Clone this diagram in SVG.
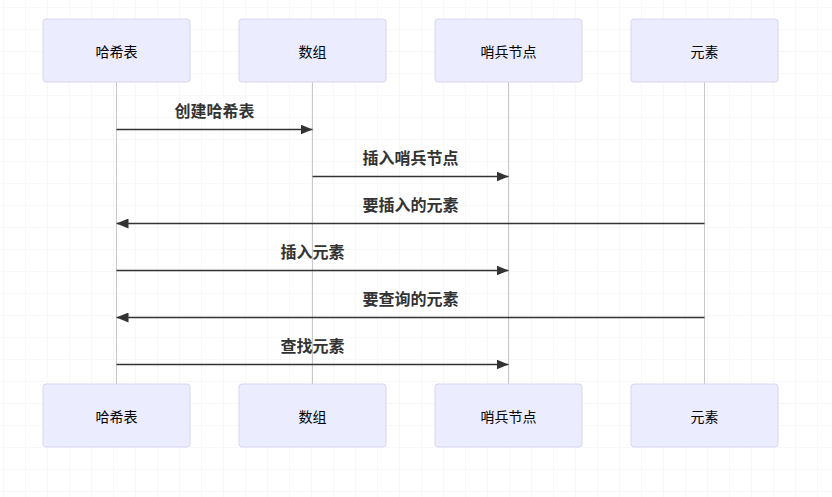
<svg xmlns="http://www.w3.org/2000/svg" width="832" height="497" viewBox="0 0 832 497">
<defs>
<pattern id="grid" x="3" y="7" width="22" height="22" patternUnits="userSpaceOnUse">
<path d="M0 0V22M0 0H22" fill="none" stroke="#f2f2f2" stroke-width="1"/>
</pattern>
<marker id="arrow" viewBox="0 0 12 10" refX="12" refY="5" markerWidth="12" markerHeight="10" markerUnits="userSpaceOnUse" orient="auto">
<path d="M0 0L12 5L0 10z" fill="#333"/>
</marker>
<style>
.actor rect{fill:#ECECFF;stroke:#d9d3f3;stroke-width:1}
.actor text{font-family:"Noto Sans CJK SC","Liberation Sans",sans-serif;font-size:14px;fill:#000;text-anchor:middle;dominant-baseline:central}
.life{stroke:#c8c8c8;stroke-width:1}
.msg{stroke:#333;stroke-width:1.5;marker-end:url(#arrow)}
.lbl{font-family:"Noto Sans CJK SC","Liberation Sans",sans-serif;font-size:16px;font-weight:bold;fill:#333;text-anchor:middle}
</style>
</defs>
<rect width="832" height="497" fill="#fff"/>
<rect width="832" height="497" fill="url(#grid)"/>
<g id="lifelines">
<line class="life" x1="116.5" y1="82" x2="116.5" y2="384"/>
<line class="life" x1="312.5" y1="82" x2="312.5" y2="384"/>
<line class="life" x1="508.5" y1="82" x2="508.5" y2="384"/>
<line class="life" x1="704.5" y1="82" x2="704.5" y2="384"/>
</g>
<g id="actor-hash-top" class="actor"><rect x="43" y="19" width="147" height="63" rx="3"/><text x="116.5" y="51">哈希表</text></g>
<g id="actor-array-top" class="actor"><rect x="239" y="19" width="147" height="63" rx="3"/><text x="312.5" y="51">数组</text></g>
<g id="actor-sentinel-top" class="actor"><rect x="435" y="19" width="147" height="63" rx="3"/><text x="508.5" y="51">哨兵节点</text></g>
<g id="actor-elem-top" class="actor"><rect x="631" y="19" width="147" height="63" rx="3"/><text x="704.5" y="51">元素</text></g>
<g id="actor-hash-bottom" class="actor"><rect x="43" y="384" width="147" height="63" rx="3"/><text x="116.5" y="416">哈希表</text></g>
<g id="actor-array-bottom" class="actor"><rect x="239" y="384" width="147" height="63" rx="3"/><text x="312.5" y="416">数组</text></g>
<g id="actor-sentinel-bottom" class="actor"><rect x="435" y="384" width="147" height="63" rx="3"/><text x="508.5" y="416">哨兵节点</text></g>
<g id="actor-elem-bottom" class="actor"><rect x="631" y="384" width="147" height="63" rx="3"/><text x="704.5" y="416">元素</text></g>
<g id="connectors">
<line class="msg" x1="116.5" y1="129.5" x2="312.5" y2="129.5"/>
<text class="lbl" x="214.5" y="117">创建哈希表</text>
<line class="msg" x1="312.5" y1="176.5" x2="508.5" y2="176.5"/>
<text class="lbl" x="410.5" y="164">插入哨兵节点</text>
<line class="msg" x1="704.5" y1="223.5" x2="116.5" y2="223.5"/>
<text class="lbl" x="410.5" y="211">要插入的元素</text>
<line class="msg" x1="116.5" y1="270.5" x2="508.5" y2="270.5"/>
<text class="lbl" x="312.5" y="258">插入元素</text>
<line class="msg" x1="704.5" y1="317.5" x2="116.5" y2="317.5"/>
<text class="lbl" x="410.5" y="305">要查询的元素</text>
<line class="msg" x1="116.5" y1="364.5" x2="508.5" y2="364.5"/>
<text class="lbl" x="312.5" y="352">查找元素</text>
</g>
</svg>
